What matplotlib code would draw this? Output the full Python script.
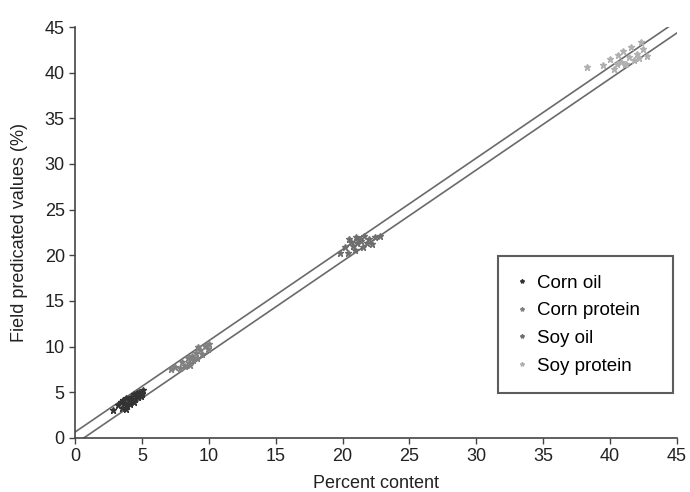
import matplotlib
matplotlib.use("Agg")
import matplotlib.pyplot as plt

plt.rcParams['font.family'] = ['Liberation Sans', 'DejaVu Sans']

corn_oil_x = [3.2, 3.4, 3.5, 3.6, 3.7, 3.8, 3.9, 4.0, 4.1, 4.2, 4.3, 4.4, 4.5, 4.6, 4.7, 4.8, 4.9, 5.0, 5.1, 4.4, 3.8, 2.8]
corn_oil_y = [3.6, 3.9, 3.3, 4.2, 3.8, 4.4, 3.5, 4.1, 3.7, 4.5, 4.0, 4.8, 4.3, 4.9, 4.5, 5.0, 4.6, 4.8, 5.2, 3.9, 3.2, 3.0]

corn_prot_x = [7.2, 7.5, 7.8, 8.0, 8.2, 8.4, 8.5, 8.7, 8.8, 9.0, 9.1, 9.3, 9.5, 9.7, 9.9, 10.0, 8.6, 9.2]
corn_prot_y = [7.5, 7.8, 7.6, 8.3, 7.9, 8.8, 8.2, 9.0, 8.5, 9.3, 8.7, 9.6, 9.2, 10.1, 9.7, 10.3, 8.0, 9.9]

soy_oil_x = [19.8, 20.2, 20.4, 20.6, 20.8, 21.0, 21.1, 21.3, 21.5, 21.6, 21.8, 22.0, 22.2, 22.4, 20.9, 21.4, 20.5, 22.8]
soy_oil_y = [20.3, 20.9, 20.2, 21.5, 21.0, 22.0, 21.3, 21.8, 20.9, 22.1, 21.4, 21.8, 21.2, 22.0, 20.6, 21.6, 21.8, 22.1]

soy_prot_x = [38.3, 39.5, 40.0, 40.3, 40.6, 40.8, 41.0, 41.2, 41.4, 41.6, 41.8, 42.0, 42.2, 42.5, 42.8, 41.1, 40.5, 42.3]
soy_prot_y = [40.6, 40.8, 41.5, 40.4, 41.9, 41.2, 42.4, 40.9, 41.7, 42.8, 41.4, 42.1, 41.6, 42.6, 41.8, 41.0, 40.9, 43.4]

line_x = [0, 45]
offset = 0.65

fig = plt.figure(figsize=(6.9, 4.92), dpi=100)
ax = fig.add_axes([0.109, 0.110, 0.872, 0.835])

ax.plot(line_x, [v + offset for v in line_x], color='#6a6a6a', lw=1.2, zorder=2)
ax.plot(line_x, [v - offset for v in line_x], color='#6a6a6a', lw=1.2, zorder=2)

ax.plot(corn_oil_x, corn_oil_y, linestyle='none', marker='*', ms=5, color='#333333', label='Corn oil', zorder=3)
ax.plot(corn_prot_x, corn_prot_y, linestyle='none', marker='*', ms=5, color='#808080', label='Corn protein', zorder=3)
ax.plot(soy_oil_x, soy_oil_y, linestyle='none', marker='*', ms=5, color='#6e6e6e', label='Soy oil', zorder=3)
ax.plot(soy_prot_x, soy_prot_y, linestyle='none', marker='*', ms=5, color='#b0b0b0', label='Soy protein', zorder=3)

ax.set_xlim(0, 45)
ax.set_ylim(0, 45)
ax.set_xticks(range(0, 46, 5))
ax.set_yticks(range(0, 46, 5))
for s in ['top', 'right']:
    ax.spines[s].set_visible(False)
for s in ['left', 'bottom']:
    ax.spines[s].set_color('#444444')
    ax.spines[s].set_linewidth(1.2)
ax.tick_params(direction='out', length=4, width=1, colors='#444444', labelsize=13, labelcolor='#222222')
ax.set_xlabel('Percent content', fontsize=13, color='#222222', labelpad=7)
ax.set_ylabel('Field predicated values (%)', fontsize=13, color='#222222', labelpad=12)

leg = ax.legend(loc='lower left', bbox_to_anchor=(0.703, 0.1095, 0.291, 0.33), mode='expand',
                borderaxespad=0, fontsize=13.5, frameon=True, fancybox=False, markerscale=0.6,
                handlelength=0.6, handletextpad=0.5, borderpad=0.98, labelspacing=0.56)
leg.get_frame().set_edgecolor('#333333')
leg.get_frame().set_linewidth(1.5)

fig.savefig('out.png', dpi=100)
